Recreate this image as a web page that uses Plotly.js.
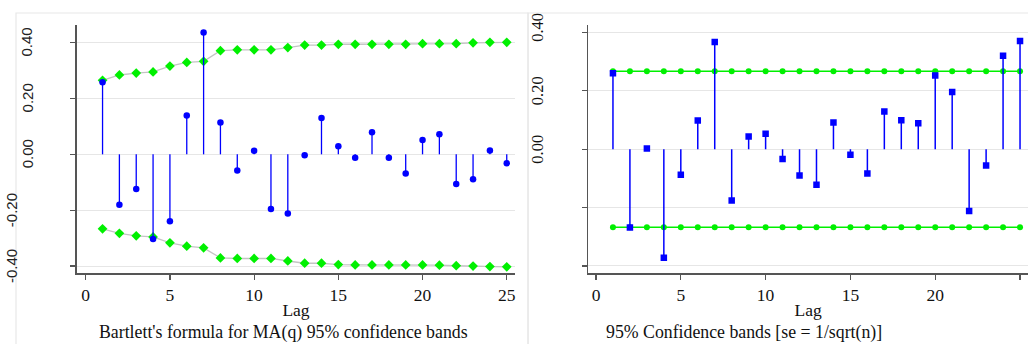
<!DOCTYPE html>
<html>
<head>
<meta charset="utf-8">
<script src="https://cdn.plot.ly/plotly-3.0.1.min.js"></script>
<style>
  html, body { margin: 0; padding: 0; background: #ffffff; }
  #chart { width: 1028px; height: 344px; }
</style>
</head>
<body>
<div id="chart"></div>
<script>
// ---- data ----
const lags = [1,2,3,4,5,6,7,8,9,10,11,12,13,14,15,16,17,18,19,20,21,22,23,24,25];

// left panel: autocorrelations with Bartlett MA(q) bands
const acf = [0.258,-0.181,-0.124,-0.303,-0.240,0.139,0.436,0.114,-0.058,0.013,
             -0.196,-0.212,-0.003,0.130,0.029,-0.012,0.079,-0.012,-0.069,0.051,
             0.072,-0.106,-0.089,0.014,-0.032];
const bartlettUpper = [0.265,0.284,0.291,0.295,0.316,0.329,0.333,0.371,0.374,0.374,
                       0.374,0.382,0.391,0.391,0.394,0.394,0.394,0.394,0.394,0.396,
                       0.396,0.396,0.399,0.401,0.401];
const bartlettLower = [-0.267,-0.283,-0.292,-0.296,-0.317,-0.329,-0.335,-0.371,-0.373,-0.373,
                       -0.373,-0.382,-0.390,-0.390,-0.395,-0.396,-0.396,-0.396,-0.396,-0.396,
                       -0.397,-0.399,-0.400,-0.402,-0.403];

// right panel: partial autocorrelations with 1/sqrt(n) bands
const pacf = [0.260,-0.268,0.002,-0.372,-0.088,0.098,0.367,-0.176,0.043,0.053,
              -0.034,-0.090,-0.122,0.091,-0.019,-0.083,0.129,0.099,0.089,0.252,
              0.196,-0.212,-0.056,0.320,0.370];
const seUpper = [0.267,0.267,0.267,0.267,0.267,0.267,0.267,0.267,0.267,0.267,
                 0.267,0.267,0.267,0.267,0.267,0.267,0.267,0.267,0.267,0.267,
                 0.267,0.267,0.267,0.267,0.267];
const seLower = [-0.267,-0.267,-0.267,-0.267,-0.267,-0.267,-0.267,-0.267,-0.267,-0.267,
                 -0.267,-0.267,-0.267,-0.267,-0.267,-0.267,-0.267,-0.267,-0.267,-0.267,
                 -0.267,-0.267,-0.267,-0.267,-0.267];

// ticks and texts
const xTickVals = [0,5,10,15,20,25];
const yTickVals = [-0.4,-0.2,0,0.2,0.4];
const yTickText = ['-0.40','-0.20','0.00','0.20','0.40'];
const xTitle = 'Lag';
const leftCaption = "Bartlett's formula for MA(q) 95% confidence bands";
const rightCaption = '95% Confidence bands [se = 1/sqrt(n)]';

// ---- helpers ----
function stems(xs, ys) {
  const sx = [], sy = [];
  xs.forEach((x, i) => { sx.push(x, x, null); sy.push(0, ys[i], null); });
  return {x: sx, y: sy};
}

const W = 1028, H = 344;
const px = v => v / W;
const py = v => (H - v) / H;

const BLUE = '#0000ff';
const GREEN = '#00f000';
const AXIS = '#555555';
const GRID = '#e6e6e6';
const SERIF = '"Liberation Serif", "Times New Roman", Times, serif';
const SANS = '"Liberation Sans", Arial, Helvetica, sans-serif';

const s1 = stems(lags, acf);
const s2 = stems(lags, pacf);

const traces = [
  // left bands
  {x: lags, y: bartlettUpper, xaxis: 'x', yaxis: 'y', mode: 'lines+markers', type: 'scatter',
   line: {color: '#c4c4c4', width: 1.3}, marker: {symbol: 'diamond', size: 7.5, color: GREEN}, hoverinfo: 'skip'},
  {x: lags, y: bartlettLower, xaxis: 'x', yaxis: 'y', mode: 'lines+markers', type: 'scatter',
   line: {color: '#c4c4c4', width: 1.3}, marker: {symbol: 'diamond', size: 7.5, color: GREEN}, hoverinfo: 'skip'},
  // left stems
  {x: s1.x, y: s1.y, xaxis: 'x', yaxis: 'y', mode: 'lines', type: 'scatter',
   line: {color: BLUE, width: 1.3}, hoverinfo: 'skip'},
  {x: lags, y: acf, xaxis: 'x', yaxis: 'y', mode: 'markers', type: 'scatter',
   marker: {symbol: 'circle', size: 6.5, color: BLUE}},
  // right bands
  {x: lags, y: seUpper, xaxis: 'x2', yaxis: 'y2', mode: 'lines+markers', type: 'scatter',
   line: {color: GREEN, width: 1.5}, marker: {symbol: 'circle', size: 6, color: GREEN}, hoverinfo: 'skip'},
  {x: lags, y: seLower, xaxis: 'x2', yaxis: 'y2', mode: 'lines+markers', type: 'scatter',
   line: {color: GREEN, width: 1.5}, marker: {symbol: 'circle', size: 6, color: GREEN}, hoverinfo: 'skip'},
  // right stems
  {x: s2.x, y: s2.y, xaxis: 'x2', yaxis: 'y2', mode: 'lines', type: 'scatter',
   line: {color: BLUE, width: 1.5}, hoverinfo: 'skip'},
  {x: lags, y: pacf, xaxis: 'x2', yaxis: 'y2', mode: 'markers', type: 'scatter',
   marker: {symbol: 'square', size: 6.5, color: BLUE}}
];

const yDomain = [py(273), py(25)];

const commonX = {
  tickvals: xTickVals, ticks: 'outside', ticklen: 5, tickwidth: 1.2, tickcolor: AXIS,
  showline: true, linecolor: AXIS, linewidth: 1.6, showgrid: false, zeroline: false,
  tickfont: {family: SERIF, size: 17.5, color: '#111'},
  title: {text: xTitle, font: {family: SERIF, size: 17.5, color: '#111'}, standoff: 0}
};
const commonY = {
  tickvals: yTickVals, ticktext: yTickText, ticks: 'outside', ticklen: 5, tickwidth: 1.2, tickcolor: AXIS,
  showticklabels: false, showline: true, linecolor: AXIS, linewidth: 1.6,
  showgrid: true, gridcolor: GRID, gridwidth: 1, zeroline: false
};

const annotations = [
  {text: leftCaption, xref: 'paper', yref: 'paper', x: px(97), y: py(332), xanchor: 'left', yanchor: 'middle',
   showarrow: false, font: {family: SERIF, size: 17.8, color: '#111'}},
  {text: rightCaption, xref: 'paper', yref: 'paper', x: px(604), y: py(332), xanchor: 'left', yanchor: 'middle',
   showarrow: false, font: {family: SERIF, size: 17.8, color: '#111'}}
];
// y tick labels, drawn rotated beside each axis
yTickVals.forEach((v, i) => {
  // left panel: positives in sans next to the axis, negatives shifted to the far edge
  annotations.push({text: yTickText[i], xref: 'paper', yref: 'y', x: px(v >= 0 ? 27 : 11), y: v,
    xanchor: 'center', yanchor: 'middle', textangle: -90, showarrow: false,
    font: {family: SANS, size: 15, color: '#222'}});
  // right panel: only the non-negative labels are visible
  if (v >= 0) {
    annotations.push({text: yTickText[i], xref: 'paper', yref: 'y2', x: px(537.5), y: v,
      yshift: v > 0.3 ? 5 : 0,
      xanchor: 'center', yanchor: 'middle', textangle: -90, showarrow: false,
      font: {family: SERIF, size: 16.5, color: '#111'}});
  }
});

const layout = {
  width: W, height: H,
  margin: {l: 0, r: 0, t: 0, b: 0, pad: 0},
  paper_bgcolor: '#ffffff', plot_bgcolor: '#ffffff',
  showlegend: false,
  xaxis: Object.assign({}, commonX, {domain: [px(77), px(515)], range: [-0.517, 25.49], anchor: 'y'}),
  yaxis: Object.assign({}, commonY, {domain: yDomain, range: [-0.425, 0.463], anchor: 'x'}),
  xaxis2: Object.assign({}, commonX, {domain: [px(588.3), 1], range: [-0.454, 25.47], anchor: 'y2'}),
  yaxis2: Object.assign({}, commonY, {domain: yDomain, range: [-0.424, 0.425], anchor: 'x2'}),
  shapes: [
    {type: 'rect', xref: 'paper', yref: 'paper', x0: px(16), x1: px(528), y0: -0.1, y1: py(13),
     line: {color: '#e8e8e8', width: 1.2}, layer: 'below'},
    {type: 'rect', xref: 'paper', yref: 'paper', x0: px(528), x1: 1.05, y0: -0.1, y1: py(13),
     line: {color: '#e8e8e8', width: 1.2}, layer: 'below'}
  ],
  annotations: annotations
};

Plotly.newPlot('chart', traces, layout, {staticPlot: true, displayModeBar: false});
</script>
</body>
</html>
